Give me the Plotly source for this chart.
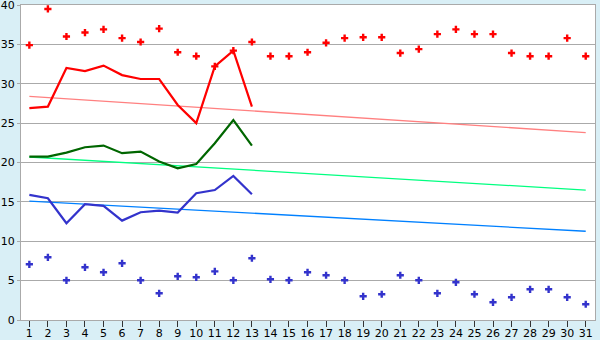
import plotly.graph_objects as go

days = list(range(1, 32))

max_points = [34.9, 39.5, 36.0, 36.5, 36.9, 35.8, 35.3, 37.0, 34.0, 33.5,
              32.2, 34.2, 35.3, 33.5, 33.5, 34.0, 35.2, 35.8, 35.9, 35.9,
              33.9, 34.4, 36.3, 36.9, 36.3, 36.3, 33.9, 33.5, 33.5, 35.8, 33.5]
min_points = [7.07, 7.96, 5.04, 6.69, 6.06, 7.2, 5.04, 3.39, 5.55, 5.42,
              6.18, 5.04, 7.84, 5.17, 5.04, 6.06, 5.68, 5.04, 3.01, 3.27,
              5.68, 5.04, 3.39, 4.79, 3.27, 2.25, 2.88, 3.9, 3.9, 2.88, 2.0]

line_days = list(range(1, 14))
red_line = [26.9, 27.1, 32.0, 31.6, 32.3, 31.1, 30.6, 30.6, 27.3, 25.0, 32.2, 34.2, 27.1]
green_line = [20.75, 20.75, 21.26, 21.94, 22.15, 21.18, 21.39, 20.12, 19.27, 19.8, 22.45, 25.4, 22.15]
blue_line = [15.88, 15.46, 12.29, 14.7, 14.49, 12.62, 13.68, 13.89, 13.64, 16.1, 16.5, 18.3, 15.97]

trend_days = [1, 31]
red_trend = [28.4, 23.8]
green_trend = [20.7, 16.5]
blue_trend = [15.1, 11.27]

x_ticks = [str(d) for d in days]
y_ticks = [0, 5, 10, 15, 20, 25, 30, 35, 40]

fig = go.Figure()
fig.add_trace(go.Scatter(x=trend_days, y=red_trend, mode="lines",
                         line=dict(color="#ff8080", width=1.3)))
fig.add_trace(go.Scatter(x=trend_days, y=green_trend, mode="lines",
                         line=dict(color="#00ff80", width=1.3)))
fig.add_trace(go.Scatter(x=trend_days, y=blue_trend, mode="lines",
                         line=dict(color="#0080ff", width=1.3)))
fig.add_trace(go.Scatter(x=line_days, y=red_line, mode="lines",
                         line=dict(color="#ff0000", width=2.2)))
fig.add_trace(go.Scatter(x=line_days, y=green_line, mode="lines",
                         line=dict(color="#006600", width=2.2)))
fig.add_trace(go.Scatter(x=line_days, y=blue_line, mode="lines",
                         line=dict(color="#3333cc", width=2.2)))
fig.add_trace(go.Scatter(x=days, y=max_points, mode="markers",
                         marker=dict(symbol="cross", size=6, color="#ff0000", line=dict(width=0))))
fig.add_trace(go.Scatter(x=days, y=min_points, mode="markers",
                         marker=dict(symbol="cross", size=6, color="#3333cc", line=dict(width=0))))

fig.update_layout(
    width=600, height=340,
    margin=dict(l=21, r=5, t=5, b=20),
    paper_bgcolor="#d9eff6",
    plot_bgcolor="#ffffff",
    showlegend=False,
    font=dict(family="DejaVu Sans", size=11, color="#000000"),
    xaxis=dict(range=[0.55, 31.5], tickvals=days, ticktext=x_ticks, automargin=False,
               showgrid=False, zeroline=False, showline=True, linecolor="#aaaaaa",
               mirror=True, ticks="outside", ticklen=6, tickcolor="#333333",
               ticklabelstandoff=-3, ticklabeloverflow="allow"),
    yaxis=dict(range=[0, 40], tickvals=y_ticks, showgrid=True, gridcolor="#aaaaaa",
               automargin=False, ticklabeloverflow="allow",
               zeroline=False, showline=True, linecolor="#aaaaaa", mirror=True,
               ticks="outside", ticklen=3, tickcolor="#aaaaaa"),
)

fig.write_html("out.html")
